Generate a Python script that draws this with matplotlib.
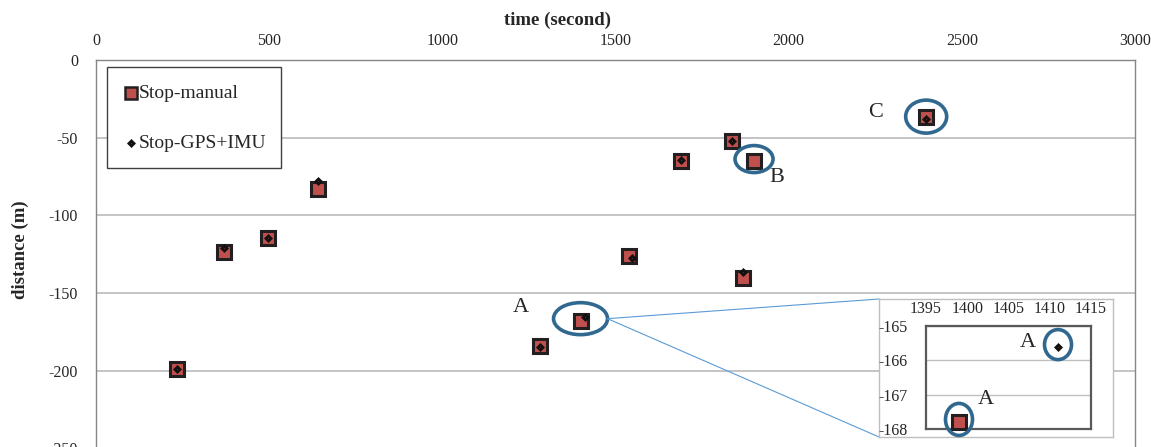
import matplotlib
matplotlib.use('Agg')
import matplotlib.pyplot as plt
from matplotlib.patches import Ellipse, Rectangle
from matplotlib.lines import Line2D
from matplotlib.transforms import ScaledTranslation

plt.rcParams['font.family'] = ['Liberation Serif', 'DejaVu Serif']
plt.rcParams['axes.unicode_minus'] = False

# ---------------- data ----------------
manual_t = [233, 370, 497, 641, 1282, 1399, 1539, 1689, 1837, 1900, 1868, 2397]
manual_d = [-198.9, -123.6, -114.6, -83.1, -184.1, -167.8, -126.2, -65.1, -52.1, -65.1, -140.4, -36.5]
gps_t = [233, 370, 497, 641, 1282, 1411, 1547, 1689, 1837, 1868, 2397]
gps_d = [-198.9, -121.0, -114.6, -78.0, -185.0, -165.6, -127.6, -64.6, -52.1, -136.7, -38.2]

x_ticks = [0, 500, 1000, 1500, 2000, 2500, 3000]
y_ticks = [0, -50, -100, -150, -200, -250]
inset_x_ticks = [1395, 1400, 1405, 1410, 1415]
inset_y_ticks = [-165, -166, -167, -168]

series_names = ['Stop-manual', 'Stop-GPS+IMU']
x_title = 'time (second)'
y_title = 'distance (m)'

# highlighted stops: (label, index into manual arrays)
highlights = [('A', 5), ('B', 9), ('C', 11)]
inset_manual_idx = 5
inset_gps_idx = 5

# ---------------- style ----------------
W, H = 1151, 447
DPI = 100
RED = '#C0504D'
EDGE = '#231F20'
RING = '#31688F'
GRID = '#BFBFBF'
TXT = '#262626'
DIA = dict(ls='none', marker='D', ms=2.6, mfc='#B03030', mec='#111111', mew=2.0)

def fx(px):
    return px / W

def fy(py):
    return 1 - py / H

def rect(l, t, r, b):
    return [fx(l), fy(b), (r - l) / W, (b - t) / H]

fig = plt.figure(figsize=(W / DPI, H / DPI), dpi=DPI)
fig.patch.set_facecolor('white')

# ---------------- main axes ----------------
ax = fig.add_axes(rect(96, 59.9, 1135, 448.4), zorder=0)
ax.set_xlim(0, 3000)
ax.set_ylim(-250, 0)
ax.set_autoscale_on(False)
ax.xaxis.tick_top()
ax.set_xticks(x_ticks)
ax.set_yticks(y_ticks)
ax.tick_params(axis='both', length=0, labelsize=11.5, labelcolor=TXT)
ax.tick_params(axis='x', pad=8)
ax.tick_params(axis='y', pad=13)
ax.grid(axis='y', color=GRID, lw=1.3)
ax.set_axisbelow(True)
for s in ['top', 'left', 'right']:
    ax.spines[s].set_color('#868686')
    ax.spines[s].set_linewidth(1.0)
ax.spines['bottom'].set_visible(False)

ax.plot(manual_t, manual_d, ls='none', marker='s', ms=10.5, mfc=RED, mec=EDGE, mew=2.2, zorder=3)
ax.plot(gps_t, gps_d, zorder=4, **DIA)

def ring(a, x, y, w_px, h_px, dy_px=0.0):
    tr = fig.dpi_scale_trans + ScaledTranslation(x, y, a.transData)
    e = Ellipse((0, dy_px / DPI), w_px / DPI, h_px / DPI, transform=tr,
                fill=False, ec=RING, lw=2.6, zorder=6, clip_on=False)
    a.add_artist(e)

ring_sizes = {'A': (54, 32, 2), 'B': (38, 27, 2), 'C': (41, 33, 0)}
label_offsets = {'A': (-60, 13), 'B': (23, -16), 'C': (-51, 4)}
for lab, i in highlights:
    w, h, dy = ring_sizes[lab]
    ring(ax, manual_t[i], manual_d[i], w, h, dy)
    ax.annotate(lab, (manual_t[i], manual_d[i]), xytext=label_offsets[lab],
                textcoords='offset pixels', ha='center', va='center',
                fontsize=16, color=TXT, zorder=7)

fig.text(fx(557), fy(20), x_title, ha='center', va='center', fontsize=13.5,
         fontweight='bold', color=TXT)
fig.text(fx(20), fy(250), y_title, ha='center', va='center', fontsize=13.5,
         fontweight='bold', rotation=90, color=TXT)

# ---------------- legend (manual) ----------------
fig.add_artist(Rectangle((fx(107), fy(168)), (281 - 107) / W, (168 - 67) / H,
                         transform=fig.transFigure, fc='white', ec='#404040',
                         lw=1.0, zorder=1))
fig.add_artist(Line2D([fx(131)], [fy(93)], transform=fig.transFigure, ls='none',
                      marker='s', ms=8, mfc=RED, mec=EDGE, mew=1.8, zorder=2))
fig.add_artist(Line2D([fx(131)], [fy(143)], transform=fig.transFigure, zorder=2, **DIA))
fig.text(fx(139), fy(93), series_names[0], ha='left', va='center', fontsize=14,
         color=TXT, zorder=3)
fig.text(fx(139), fy(143), series_names[1], ha='left', va='center', fontsize=14,
         color=TXT, zorder=3)

# ---------------- zoom connector lines ----------------
fig.canvas.draw()
ia = highlights[0][1]
px0, py0 = ax.transData.transform((manual_t[ia], manual_d[ia]))
start = (px0 + 27) / W, (py0 + 2) / H
for ty in (299, 437):
    fig.add_artist(Line2D([start[0], fx(879)], [start[1], fy(ty)],
                          transform=fig.transFigure, color='#5B9BD5', lw=0.8, zorder=1))

# ---------------- inset ----------------
box = fig.add_axes(rect(879, 299, 1113, 437), zorder=2)
box.set_xticks([])
box.set_yticks([])
for s in box.spines.values():
    s.set_color('#BFBFBF')
    s.set_linewidth(1.0)

ins = fig.add_axes(rect(926, 326, 1091, 429), zorder=3)
ins.set_xlim(1395, 1415)
ins.set_ylim(-168, -165)
ins.set_autoscale_on(False)
ins.xaxis.tick_top()
ins.set_xticks(inset_x_ticks)
ins.set_yticks(inset_y_ticks)
ins.tick_params(axis='both', length=0, labelsize=11.5, labelcolor=TXT)
ins.tick_params(axis='x', pad=6.5)
ins.tick_params(axis='y', pad=13)
ins.grid(axis='y', color=GRID, lw=1.0)
ins.set_axisbelow(True)
for s in ins.spines.values():
    s.set_color('#595959')
    s.set_linewidth(1.6)
ins.set_facecolor('white')
ins.plot(manual_t, manual_d, ls='none', marker='s', ms=10.5, mfc=RED, mec=EDGE,
         mew=2.2, zorder=3)
ins.plot(gps_t, gps_d, zorder=4, **DIA)
for ln in ins.lines:
    ln.set_clip_on(True)
    ln.set_clip_box(box.bbox)

ring(ins, manual_t[inset_manual_idx], manual_d[inset_manual_idx], 27, 32, 2.7)
ring(ins, gps_t[inset_gps_idx], gps_d[inset_gps_idx], 27, 30, 2)
ins.annotate('A', (manual_t[inset_manual_idx], manual_d[inset_manual_idx]),
             xytext=(27, 22.7), textcoords='offset pixels', ha='center', va='center',
             fontsize=16, color=TXT, zorder=7, annotation_clip=False)
ins.annotate('A', (gps_t[inset_gps_idx], gps_d[inset_gps_idx]),
             xytext=(-30, 4), textcoords='offset pixels', ha='center', va='center',
             fontsize=16, color=TXT, zorder=7, annotation_clip=False)

fig.savefig('out.png', dpi=DPI)
